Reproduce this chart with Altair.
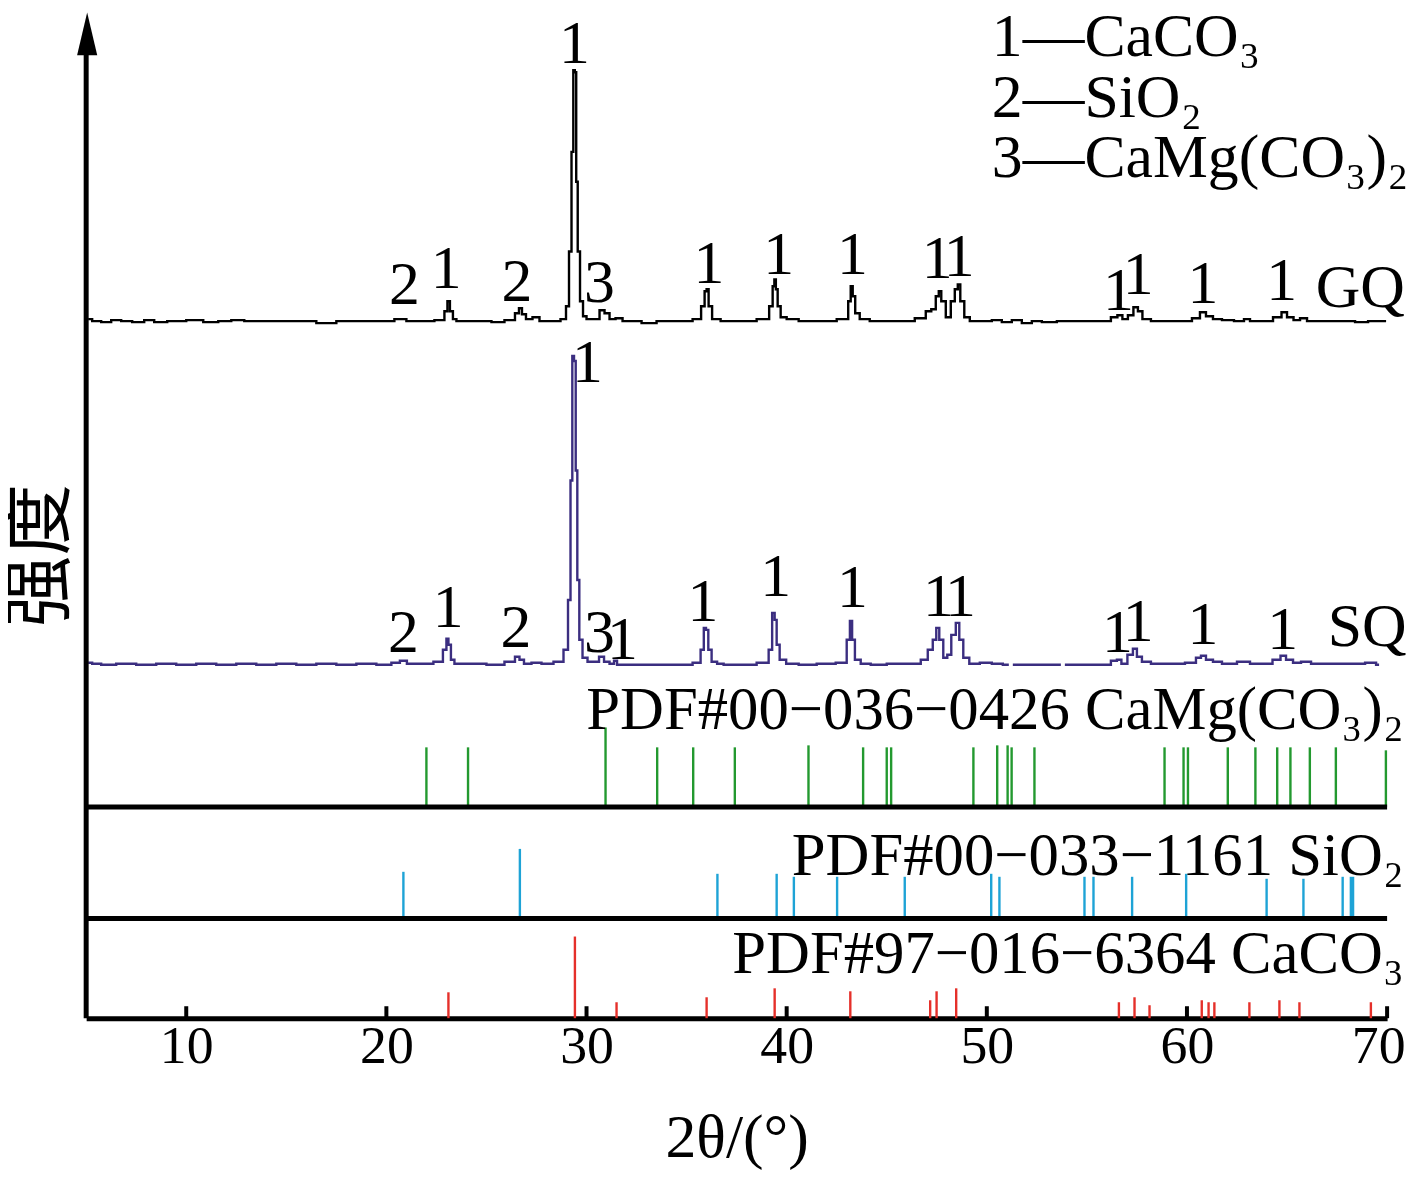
import altair as alt
import pandas as pd

# ---------------- data ----------------
# diffraction angle 2theta (deg) and plotted intensity (arbitrary units, curves stacked)
gq_x = [5.1, 5.5, 6.0, 6.5, 7.0, 7.6, 8.2, 8.6, 9.5, 10.5, 11.2, 12.0, 12.5, 13.3, 14.0, 15.0, 16.0, 17.0,
        18.0, 19.0, 20.0, 20.8, 21.2, 22.0, 22.8, 23.0, 23.1, 23.25, 23.4, 23.6, 25.0, 25.5, 26.3, 26.55,
        26.7, 26.85, 27.1, 27.5, 27.8, 28.5, 28.9, 29.05, 29.2, 29.3, 29.38, 29.45, 29.52, 29.6, 29.75,
        29.9, 30.1, 30.5, 30.8, 31.0, 31.3, 31.6, 32.0, 32.5, 33.0, 34.0, 35.0, 35.6, 35.85, 35.95, 36.05,
        36.15, 36.4, 37.0, 38.0, 39.0, 39.25, 39.35, 39.42, 39.5, 39.6, 39.8, 40.2, 41.0, 42.0, 43.0, 43.15,
        43.25, 43.35, 43.5, 43.8, 44.5, 45.0, 46.0, 46.8, 47.1, 47.35, 47.55, 47.65, 47.8, 48.1, 48.3, 48.5,
        48.6, 48.75, 49.0, 49.3, 50.0, 50.5, 51.0, 51.5, 52.0, 52.5, 53.0, 54.0, 55.0, 56.0, 56.4, 56.65,
        56.9, 57.2, 57.45, 57.65, 57.9, 58.5, 59.5, 60.0, 60.5, 60.8, 61.1, 61.5, 62.0, 62.7, 63.0, 63.3,
        64.0, 64.6, 64.85, 65.15, 65.5, 65.8, 66.2, 67.0, 68.0, 68.8, 69.3, 69.95]
gq_y = [702, 700, 699, 701, 700, 699, 701, 699, 700, 701, 699, 700, 701, 700, 700, 700, 700, 698,
        700, 700, 700, 702, 700, 700, 701, 710, 720, 710, 702, 700, 700, 699, 701, 708,
        713, 707, 702, 704, 700, 700, 702, 715, 770, 870, 952, 950, 840, 770, 720,
        705, 702, 702, 711, 708, 702, 703, 700, 700, 698, 700, 700, 702, 715, 730, 732,
        715, 702, 700, 700, 702, 715, 735, 742, 732, 715, 704, 702, 700, 700, 702, 720,
        735, 725, 708, 702, 700, 700, 700, 703, 710, 712, 725, 730, 720, 704, 720, 732,
        737, 720, 704, 700, 700, 701, 699, 701, 698, 700, 699, 700, 700, 700, 704, 706,
        702, 706, 714, 710, 702, 700, 700, 700, 703, 709, 705, 702, 701, 700, 702, 700,
        700, 704, 709, 704, 701, 703, 700, 700, 700, 699, 700, 700]

sq_x = [5.1, 5.5, 6.0, 7.0, 8.0, 9.0, 10.0, 11.0, 12.0, 13.0, 14.0, 15.0, 16.0, 17.0, 18.0, 19.0, 20.0,
        20.5, 20.85, 21.2, 22.0, 22.7, 22.95, 23.05, 23.15, 23.3, 23.5, 24.5, 25.5, 26.3, 26.55, 26.75,
        27.0, 27.5, 28.0, 28.7, 29.0, 29.15, 29.25, 29.33, 29.42, 29.5, 29.58, 29.7, 29.9, 30.2, 30.5,
        30.75, 31.0, 31.3, 31.45, 31.6, 32.0, 33.0, 34.0, 35.0, 35.6, 35.8, 35.92, 36.02, 36.15, 36.35,
        36.7, 37.0, 38.0, 39.0, 39.2, 39.35, 39.45, 39.55, 39.75, 40.2, 41.0, 42.0, 42.9, 43.1, 43.22,
        43.32, 43.5, 43.9, 44.5, 45.5, 46.5, 46.9, 47.2, 47.4, 47.55, 47.7, 47.95, 48.1, 48.35, 48.55,
        48.7, 48.95, 49.3, 50.0, 50.5, 51.1, 51.3, 53.7, 53.9, 56.0, 56.4, 56.6, 56.85, 57.2, 57.4, 57.6,
        57.9, 58.5, 59.5, 60.3, 60.6, 60.8, 61.1, 61.5, 62.0, 63.0, 63.3, 64.0, 64.55, 64.8, 65.1, 65.5,
        65.9, 66.5, 67.5, 68.5, 69.3, 69.6]
sq_y = [357, 356, 355, 356, 355, 356, 355, 356, 355, 356, 355, 356, 355, 356, 355, 356, 355,
        357, 359, 356, 356, 358, 370, 381, 375, 360, 356, 356, 355, 358, 363, 360,
        356, 357, 356, 358, 370, 420, 540, 665, 660, 550, 440, 380, 362, 358, 358,
        363, 358, 356, 359, 355, 355, 355, 355, 355, 357, 370, 392, 390, 370, 358,
        356, 355, 355, 357, 370, 407, 400, 375, 360, 356, 355, 356, 357, 380, 399,
        380, 360, 356, 355, 356, 356, 360, 370, 380, 392, 380, 362, 365, 385, 397,
        380, 362, 356, 357, 356, 355, 355, 355, 355, 355, 359, 360, 356, 365, 371, 363,
        358, 356, 356, 357, 362, 364, 360, 358, 356, 358, 356, 356, 360, 364, 360, 357,
        358, 356, 356, 356, 357, 355]
sq_gaps = [51.2, 53.8]   # small breaks in the SQ trace

# reference patterns (stick positions and stick heights)
dol_x = [22.0, 24.08, 30.95, 33.53, 35.33, 37.41, 41.09, 43.82, 45.0, 45.22, 49.33, 50.52, 51.04,
         51.24, 52.38, 58.88, 59.83, 60.05, 62.04, 63.42, 64.51, 65.17, 66.14, 67.44, 69.94]
dol_h = [60, 60, 80, 60, 60, 60, 62, 60, 60, 60, 60, 62, 62, 60, 60, 60, 60, 60, 60, 60, 60, 60, 60, 60, 57]
qtz_x = [20.85, 26.67, 36.54, 39.5, 40.36, 42.52, 45.9, 50.22, 50.63, 54.88, 55.33, 57.26, 59.96,
         63.98, 65.82, 67.78, 68.19, 68.3]
qtz_h = [47, 70, 45, 45, 42, 42, 42, 45, 42, 42, 42, 42, 45, 40, 40, 42, 42, 42]
cal_x = [23.1, 29.42, 31.5, 36.0, 39.4, 43.18, 47.17, 47.49, 48.47, 56.6, 57.38, 58.13, 60.74, 61.08,
         61.37, 63.12, 64.62, 65.62, 69.19]
cal_h = [26, 82, 16, 21, 30, 27, 18, 27, 30, 16, 21, 13, 18, 16, 16, 16, 18, 16, 16]
dol_base, qtz_base, cal_base = 212, 100, 0

# peak labels
gq_lab_t = ["2", "1", "2", "1", "3", "1", "1", "1", "1", "1", "1", "1", "1", "1", "GQ"]
gq_lab_x = [20.9, 22.99, 26.52, 29.4, 30.65, 36.12, 39.6, 43.28, 47.52, 48.62, 56.57, 57.56, 60.8, 64.73, 68.66]
gq_lab_y = [736, 752, 739, 978, 738, 757, 766, 766, 762, 764, 730, 746, 737, 740, 733]
sq_lab_t = ["2", "1", "2", "1", "3", "1", "1", "1", "1", "1", "1", "1", "1", "1", "1", "SQ"]
sq_lab_x = [20.85, 23.09, 26.47, 30.05, 30.65, 31.79, 35.82, 39.45, 43.28, 47.58, 48.68, 56.52, 57.56, 60.8, 64.78, 69.0]
sq_lab_y = [387, 412, 392, 658, 387, 380, 418, 443, 432, 423, 423, 387, 398, 395, 390, 393]

pdf_t = ["PDF#00−036−0426 CaMg(CO₃)₂", "PDF#00−033−1161 SiO₂", "PDF#97−016−6364 CaCO₃"]
pdf_x = [70.84, 70.84, 70.84]
pdf_y = [308, 162, 63]

leg_t = ["1—CaCO₃", "2—SiO₂", "3—CaMg(CO₃)₂"]
leg_x = [50.25, 50.25, 50.25]
leg_y = [985, 924, 864]

x_ticks = [10, 20, 30, 40, 50, 60, 70]

# ---------------- chart ----------------
FONT = "Liberation Serif"
xs = alt.Scale(domain=[5, 70], nice=False, zero=False)
ys = alt.Scale(domain=[0, 1010], nice=False, zero=False)
xaxis = alt.Axis(values=x_ticks, ticks=False, grid=False, domain=True, domainColor="black",
                 domainWidth=5, labelFont=FONT, labelFontSize=54, labelColor="black",
                 labelPadding=2, labelFlush=True, labelFlushOffset=18,
                 title="2θ/(°)", titleFont=FONT,
                 titleFontSize=62, titleFontWeight="normal", titleColor="black",
                 titleY=120, titleBaseline="middle")
yaxis = alt.Axis(labels=False, ticks=False, grid=False, domain=False, title="强度",
                 titleFont="Noto Sans CJK SC", titleFontSize=72, titleFontWeight="normal",
                 titleColor="black", titleX=-46, titleY=545, titleAngle=270,
                 titleBaseline="middle", titleAlign="center")
X = alt.X("x:Q", scale=xs, axis=xaxis)
Y = alt.Y("y:Q", scale=ys, axis=yaxis)

gq_df = pd.DataFrame({"x": gq_x, "y": gq_y})
sq_df = pd.DataFrame({"x": sq_x, "y": sq_y})
sq_df["seg"] = [sum(1 for g in sq_gaps if g < v) for v in sq_x]


def sticks(xv, hv, base):
    return pd.DataFrame({"x": xv, "y": [base] * len(xv), "y2": [base + h for h in hv]})


gq_line = alt.Chart(gq_df).mark_line(color="black", strokeWidth=2.4, interpolate="step").encode(x=X, y=Y)
sq_line = alt.Chart(sq_df).mark_line(color="#3b2e80", strokeWidth=2.4, interpolate="step").encode(
    x=X, y=Y, detail="seg:N")

dol = alt.Chart(sticks(dol_x, dol_h, dol_base)).mark_rule(color="#23992f", strokeWidth=2.4).encode(
    x=X, y=Y, y2="y2:Q")
qtz = alt.Chart(sticks(qtz_x, qtz_h, qtz_base)).mark_rule(color="#1ea3d6", strokeWidth=2.4).encode(
    x=X, y=Y, y2="y2:Q")
cal = alt.Chart(sticks(cal_x, cal_h, cal_base)).mark_rule(color="#e5302a", strokeWidth=2.4).encode(
    x=X, y=Y, y2="y2:Q")

sep_df = pd.DataFrame({"x": [5, 5], "x2": [70, 70], "y": [dol_base, qtz_base]})
seps = alt.Chart(sep_df).mark_rule(color="black", strokeWidth=5).encode(x=X, x2="x2:Q", y=Y)

tick_df = pd.DataFrame({"x": x_ticks, "y": [0] * len(x_ticks), "y2": [12] * len(x_ticks)})
ticks = alt.Chart(tick_df).mark_rule(color="black", strokeWidth=4).encode(x=X, y=Y, y2="y2:Q")

yline_df = pd.DataFrame({"x": [5], "y": [0], "y2": [975]})
yline = alt.Chart(yline_df).mark_rule(color="black", strokeWidth=5).encode(x=X, y=Y, y2="y2:Q")
arrow_df = pd.DataFrame({"x": [5.05], "y": [988.5]})
arrow = alt.Chart(arrow_df).mark_point(
    shape="M0,-1L0.47,1L-0.47,1Z", size=1849, filled=True, color="black", opacity=1
).encode(x=X, y=Y)


def text_layer(t, xv, yv, size, align):
    df = pd.DataFrame({"x": xv, "y": yv, "t": t})
    return alt.Chart(df).mark_text(font=FONT, fontSize=size, color="black", align=align,
                                   baseline="middle").encode(x=X, y=Y, text="t:N")


gq_txt = text_layer(gq_lab_t, gq_lab_x, gq_lab_y, 62, "center")
sq_txt = text_layer(sq_lab_t, sq_lab_x, sq_lab_y, 62, "center")
pdf_txt = text_layer(pdf_t, pdf_x, pdf_y, 61, "right")
leg_txt = text_layer(leg_t, leg_x, leg_y, 62, "left")

chart = alt.layer(
    dol, qtz, cal, seps, ticks, gq_line, sq_line, yline, arrow, gq_txt, sq_txt, pdf_txt, leg_txt
).properties(
    width=1306.5, height=1010, autosize="none",
    padding={"left": 78.5, "top": 2, "right": 22, "bottom": 160},
).configure_view(strokeWidth=0)

chart.save("out.html", embed_options={"renderer": "svg", "actions": False})
